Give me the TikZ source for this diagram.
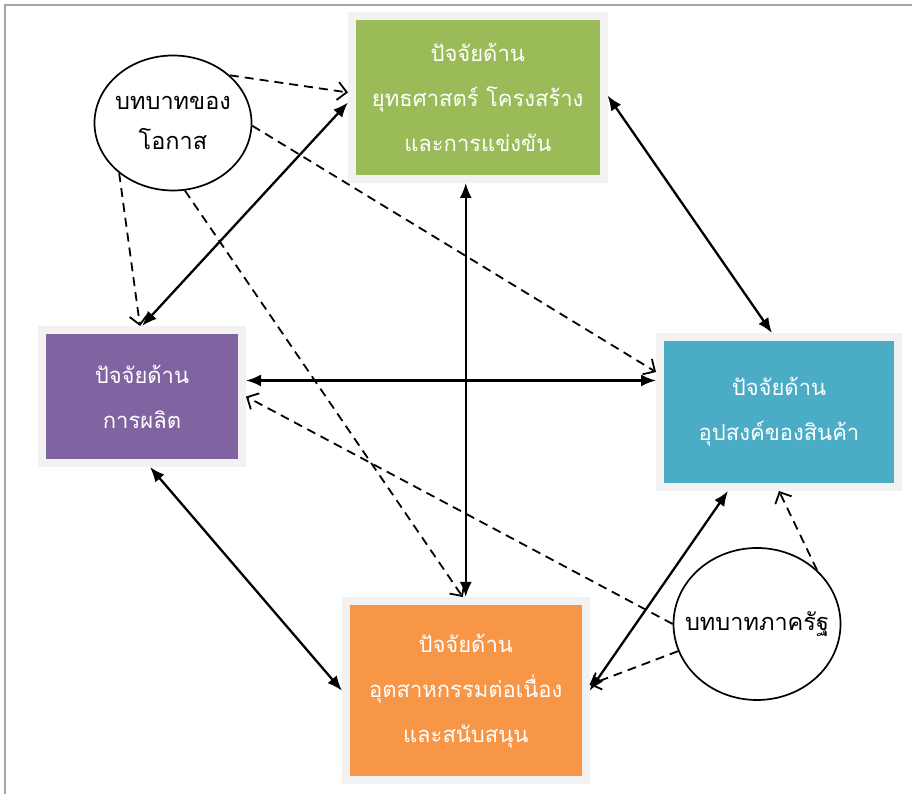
\documentclass[tikz,border=0pt]{standalone}
\usepackage{fontspec}
\newfontfamily\thaifont[Script=Thai]{Loma}
\usetikzlibrary{shapes.geometric,arrows.meta}
\definecolor{fgreen}{HTML}{9BBB59}
\definecolor{fpurple}{HTML}{8064A2}
\definecolor{fteal}{HTML}{4BACC6}
\definecolor{forange}{HTML}{F79646}
\definecolor{fframe}{HTML}{F2F2F2}
\definecolor{fborder}{HTML}{A6A6A6}
\tikzset{
	factor/.style={rectangle, draw=fframe, line width=8pt, text=white, align=center, font=\thaifont\fontsize{22}{45}\selectfont},
	role/.style={ellipse, draw, line width=1.7pt, align=center, inner xsep=-18pt, inner ysep=0pt, font=\thaifont\fontsize{23.5}{40}\selectfont},
	link/.style={line width=2.3pt, {Latex[length=15pt,width=12pt]}-{Latex[length=15pt,width=12pt]}},
	push/.style={line width=1.8pt, dash pattern=on 9pt off 6pt, -{Straight Barb[length=9pt,width=18pt]}},
}

\begin{document}
\begin{tikzpicture}[x=1pt,y=1pt]
\useasboundingbox (0,0) rectangle (912,794);
\draw[fborder, line width=1.5pt] (5,0) -- (5,789) -- (912,789);

\node[factor, fill=fgreen, minimum width=251.5pt, minimum height=163pt] (strategy) at (477.75,696.5) {ปัจจัยด้าน\\ยุทธศาสตร์ โครงสร้าง\\และการแข่งขัน};
\node[factor, fill=fpurple, minimum width=200pt, minimum height=133pt] (production) at (142,397.5) {ปัจจัยด้าน\\การผลิต};
\node[factor, fill=fteal, minimum width=238pt, minimum height=150pt] (demand) at (779,382) {ปัจจัยด้าน\\อุปสงค์ของสินค้า};
\node[factor, fill=forange, minimum width=239.5pt, minimum height=179.5pt] (industry) at (465.75,103.25) {ปัจจัยด้าน\\อุตสาหกรรมต่อเนื่อง\\และสนับสนุน};
\node[role, minimum width=157pt, minimum height=135pt] (chance) at (173,671) {บทบาทของ\\โอกาส};
\node[role, minimum width=167pt, minimum height=152pt] (government) at (757,170) {บทบาทภาครัฐ};

\draw[link] ([yshift=-5pt]strategy.west) -- (production.north);
\draw[link] ([yshift=2pt]strategy.east) -- ([xshift=-7pt]demand.north);
\draw[link] (industry.north) -- (industry.north |- strategy.south);
\draw[link] ([yshift=16pt]production.east) -- ([yshift=16pt]production.east -| demand.west);
\draw[link] ([xshift=8pt]production.south) -- (industry.west);
\draw[link] ([xshift=-51pt]demand.south) -- (industry.east);

\draw[push] (chance.40) -- ([yshift=5pt]strategy.west);
\draw[push] (chance.-2) -- ([yshift=40pt]demand.west);
\draw[push] (chance.223) -- ([xshift=-2pt]production.north);
\draw[push] (chance.-80) -- ([xshift=-3pt]industry.north);
\draw[push] (government.west) -- (production.east);
\draw[push] (government.199) -- ([yshift=6pt]industry.east);
\draw[push] (government.42) -- (demand.south);
\end{tikzpicture}
\end{document}
